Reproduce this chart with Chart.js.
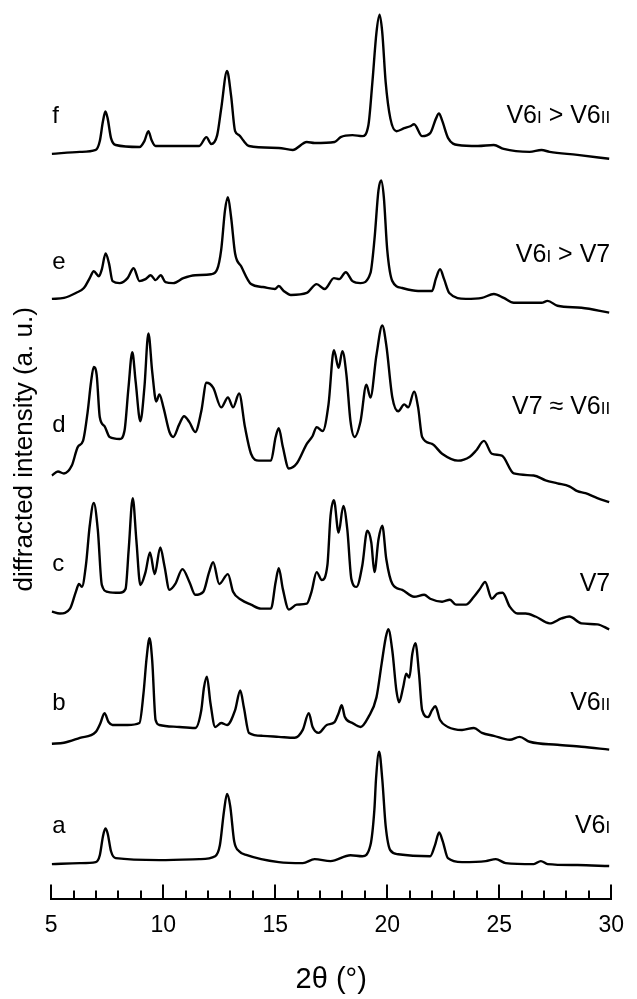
<!DOCTYPE html>
<html lang="en">
<head>
    <meta charset="UTF-8">
    <title>XRD patterns</title>
    <script src="https://cdn.jsdelivr.net/npm/chart.js"></script>
    <style>
        body { margin: 0; background: #fff; }
        canvas { display: block; }
    </style>
</head>
<body>
    <canvas id="xrdChart" width="637" height="999"></canvas>

    <script>
        // each pattern: [2theta (deg), intensity (a. u., already offset for stacking)]
        const patternA = [[5.03,35],[6.28,36],[6.99,37],[7.17,44],[7.31,63],[7.42,71],[7.52,66],[7.67,48],[7.88,41],
            [9.83,39],[11.61,40],[12.32,43],[12.53,54],[12.71,88],[12.85,106],[12.99,94],[13.17,58],[13.39,48],[13.74,44],
            [15.16,37],[16.23,36],[16.76,40],[17.47,38],[18.36,44],[18.89,43],[19.25,54],[19.43,91],[19.5,121],[19.64,149],
            [19.78,121],[19.93,74],[20.14,49],[20.49,45],[21.92,43],[22.13,54],[22.32,67],[22.48,58],[22.71,41],[23.34,37],
            [24.4,38],[24.85,40],[25.29,36],[26.54,35],[26.86,38],[27.16,35],[28.49,34],[29.91,33]];

        const patternB = [[5.03,157],[5.57,158],[6.28,163],[6.99,169],[7.2,178],[7.38,188],[7.56,179],[7.74,176],[8.41,176],
            [8.94,178],[9.12,208],[9.26,244],[9.39,264],[9.51,241],[9.66,181],[9.83,176],[10.72,174],[11.43,173],[11.7,191],
            [11.82,214],[11.95,225],[12.11,198],[12.32,174],[12.59,178],[12.85,176],[13.21,191],[13.44,211],[13.6,194],
            [13.83,168],[14.45,165],[15.16,164],[15.87,163],[16.23,171],[16.5,188],[16.67,174],[16.94,168],[17.3,176],
            [17.65,179],[17.83,188],[17.97,196],[18.11,184],[18.45,178],[18.81,174],[19.16,184],[19.52,204],[19.75,238],
            [19.93,264],[20.05,273],[20.23,251],[20.41,211],[20.53,199],[20.71,214],[20.85,228],[20.99,224],[21.12,248],
            [21.26,259],[21.42,228],[21.56,191],[21.83,184],[22.0,191],[22.15,195],[22.36,181],[22.71,174],[23.34,171],
            [23.87,173],[24.23,168],[24.76,165],[25.47,161],[25.91,164],[26.36,159],[27.6,156],[28.67,154],[29.91,151]];

        const patternC = [[5.03,291],[5.39,289],[5.84,294],[6.1,311],[6.24,319],[6.37,316],[6.55,338],[6.72,378],[6.9,401],
            [7.08,374],[7.26,318],[7.52,311],[8.06,310],[8.32,314],[8.46,354],[8.64,406],[8.8,364],[8.98,318],[9.21,331],
            [9.41,351],[9.62,329],[9.87,356],[10.05,338],[10.28,313],[10.54,319],[10.86,334],[11.17,321],[11.43,308],
            [11.79,311],[12.05,331],[12.23,341],[12.5,319],[12.89,329],[13.12,311],[13.48,303],[13.92,298],[14.36,294],
            [14.81,294],[15.02,321],[15.16,335],[15.34,314],[15.61,293],[15.96,298],[16.41,299],[16.62,311],[16.85,331],
            [17.08,323],[17.33,338],[17.47,388],[17.62,404],[17.83,371],[18.04,398],[18.22,374],[18.4,324],[18.63,316],
            [18.89,338],[19.11,373],[19.29,361],[19.43,331],[19.61,364],[19.78,378],[19.96,344],[20.23,319],[20.67,313],
            [21.2,306],[21.65,308],[21.92,304],[22.45,301],[22.8,303],[23.07,298],[23.51,298],[23.87,306],[24.14,314],
            [24.37,321],[24.67,304],[24.9,309],[25.15,310],[25.47,296],[25.82,289],[26.18,289],[26.62,286],[27.25,279],
            [27.78,284],[28.13,286],[28.67,279],[29.38,278],[29.91,273]];

        const patternD = [[5.03,429],[5.3,433],[5.57,431],[5.92,439],[6.19,458],[6.42,464],[6.63,494],[6.78,524],[6.9,539],
            [7.03,531],[7.17,488],[7.38,479],[7.61,468],[8.06,466],[8.27,474],[8.45,518],[8.62,554],[8.77,524],[8.98,484],
            [9.16,518],[9.34,573],[9.51,534],[9.69,504],[9.83,511],[10.01,498],[10.28,473],[10.45,468],[10.72,481],
            [10.93,489],[11.17,483],[11.43,473],[11.7,494],[11.93,523],[12.23,518],[12.59,498],[12.89,508],[13.12,498],
            [13.39,512],[13.65,478],[13.92,451],[14.27,444],[14.81,444],[15.02,468],[15.16,477],[15.34,458],[15.61,436],
            [15.96,441],[16.41,461],[16.67,469],[16.85,478],[17.12,474],[17.38,501],[17.62,556],[17.83,538],[18.0,555],
            [18.18,531],[18.36,484],[18.54,468],[18.81,484],[19.07,521],[19.25,508],[19.52,551],[19.78,581],[19.96,561],
            [20.23,508],[20.49,494],[20.76,501],[20.94,498],[21.2,514],[21.38,498],[21.56,468],[22.0,461],[22.45,451],
            [23.16,444],[23.69,448],[23.96,454],[24.32,464],[24.67,451],[25.12,449],[25.65,431],[26.54,429],[27.07,424],
            [27.6,421],[28.13,418],[28.49,413],[28.85,411],[29.38,406],[29.91,402]];

        const patternE = [[5.03,608],[5.57,609],[6.1,614],[6.46,619],[6.72,629],[6.9,636],[7.13,631],[7.26,638],[7.43,654],
            [7.58,644],[7.74,626],[8.06,624],[8.41,629],[8.68,639],[8.94,626],[9.21,628],[9.44,632],[9.66,627],[9.89,632],
            [10.1,625],[10.45,624],[10.9,629],[11.43,632],[12.14,633],[12.41,638],[12.59,658],[12.76,698],[12.89,711],
            [13.03,691],[13.21,654],[13.48,641],[13.92,623],[14.45,620],[14.99,618],[15.16,621],[15.38,616],[15.7,612],
            [16.41,614],[16.85,623],[17.21,618],[17.62,629],[17.86,628],[18.15,635],[18.45,626],[18.81,624],[19.25,634],
            [19.43,668],[19.61,718],[19.73,728],[19.85,711],[20.0,658],[20.23,626],[20.67,619],[21.38,616],[22.0,616],
            [22.18,629],[22.36,638],[22.54,628],[22.77,614],[23.51,608],[24.23,609],[24.76,613],[25.2,609],[25.65,604],
            [26.89,604],[27.16,606],[27.6,601],[28.67,599],[29.91,594]];

        const patternF = [[5.03,755],[6.28,757],[6.99,759],[7.17,768],[7.31,788],[7.42,798],[7.52,791],[7.67,771],[7.88,764],
            [8.94,762],[9.16,768],[9.34,778],[9.48,769],[9.66,763],[11.61,763],[11.93,772],[12.14,765],[12.41,774],
            [12.59,801],[12.85,839],[13.03,814],[13.21,778],[13.39,774],[13.56,769],[13.83,763],[15.16,761],[15.78,759],
            [16.41,767],[16.76,766],[17.65,767],[17.92,772],[18.45,774],[18.89,773],[19.16,784],[19.34,828],[19.52,878],
            [19.66,896],[19.78,878],[19.93,828],[20.14,791],[20.41,778],[20.76,781],[21.03,783],[21.2,785],[21.56,773],
            [21.92,776],[22.18,791],[22.31,796],[22.45,789],[22.72,771],[23.16,764],[24.05,763],[24.76,764],[25.2,760],
            [26.36,757],[26.89,759],[27.25,757],[28.49,754],[29.91,750]];

        const sampleLetters = ['a', 'b', 'c', 'd', 'e', 'f'];
        // {I}, {II} = small roman numerals
        const phaseNames = ['V6{I}', 'V6{II}', 'V7', 'V7 \u2248 V6{II}', 'V6{I} > V7', 'V6{I} > V6{II}'];
        const patterns = [patternA, patternB, patternC, patternD, patternE, patternF];

        const FONT = 'Arial, "Liberation Sans", sans-serif';

        // annotation rows (baseline level, in intensity units)
        const letterLevels = [66, 191, 332, 473, 638, 786];
        const phaseLevels = [66, 191, 312, 491, 645, 786];

        function drawRich(ctx, text, right, baseY, size) {
            const parts = text.split(/[{}]/);
            const segs = parts.map((t, i) => ({ t, small: i % 2 === 1 }));
            let total = 0;
            segs.forEach(s => {
                ctx.font = (s.small ? Math.round(size * 0.68) : size) + 'px ' + FONT;
                s.w = ctx.measureText(s.t).width;
                total += s.w;
            });
            let xx = right - total;
            segs.forEach(s => {
                ctx.font = (s.small ? Math.round(size * 0.68) : size) + 'px ' + FONT;
                ctx.fillText(s.t, xx, baseY);
                xx += s.w;
            });
        }

        const xrdDecor = {
            id: 'xrdDecor',
            afterDraw(chart) {
                const { ctx, chartArea, scales: { x, y } } = chart;
                ctx.save();
                ctx.strokeStyle = '#000';
                ctx.lineWidth = 2;
                for (let v = x.min; v <= x.max; v++) {
                    const px = Math.round(x.getPixelForValue(v));
                    const len = v % 5 === 0 ? 14 : 8;
                    ctx.beginPath();
                    ctx.moveTo(px, chartArea.bottom);
                    ctx.lineTo(px, chartArea.bottom - len);
                    ctx.stroke();
                }
                ctx.fillStyle = '#000';
                ctx.textBaseline = 'alphabetic';
                ctx.textAlign = 'left';
                sampleLetters.forEach((l, i) => {
                    ctx.font = '24px ' + FONT;
                    ctx.fillText(l, x.getPixelForValue(5) + 1, y.getPixelForValue(letterLevels[i]));
                });
                phaseNames.forEach((n, i) => {
                    drawRich(ctx, n, chartArea.right - 1, y.getPixelForValue(phaseLevels[i]), 25);
                });
                ctx.restore();
            }
        };

        new Chart(document.getElementById('xrdChart').getContext('2d'), {
            type: 'line',
            data: {
                datasets: patterns.map((p, i) => ({
                    label: sampleLetters[i],
                    data: p.map(([t, v]) => ({ x: t, y: v })),
                    borderColor: '#000',
                    borderWidth: 2.4,
                    pointRadius: 0,
                    cubicInterpolationMode: 'monotone',
                    fill: false
                }))
            },
            options: {
                responsive: false,
                animation: false,
                layout: { padding: { top: 0, right: 0, left: 0, bottom: 0 } },
                plugins: {
                    legend: { display: false },
                    tooltip: { enabled: false }
                },
                scales: {
                    x: {
                        type: 'linear',
                        min: 5,
                        max: 30,
                        grid: { display: false, drawTicks: false },
                        border: { display: true, color: '#000', width: 2 },
                        ticks: { stepSize: 5, color: '#000', padding: 13, font: { size: 23, family: FONT } },
                        title: {
                            display: true,
                            text: '2\u03B8 (\u00B0)',
                            color: '#000',
                            font: { size: 29, family: FONT },
                            padding: { top: 10, bottom: 2 }
                        }
                    },
                    y: {
                        min: 0,
                        max: 911,
                        grid: { display: false, drawTicks: false },
                        border: { display: false },
                        ticks: { display: false },
                        title: {
                            display: true,
                            text: 'diffracted intensity (a. u.)',
                            color: '#000',
                            font: { size: 26, family: FONT },
                            padding: { top: 9, bottom: 11 }
                        }
                    }
                }
            },
            plugins: [xrdDecor]
        });
    </script>
</body>
</html>
